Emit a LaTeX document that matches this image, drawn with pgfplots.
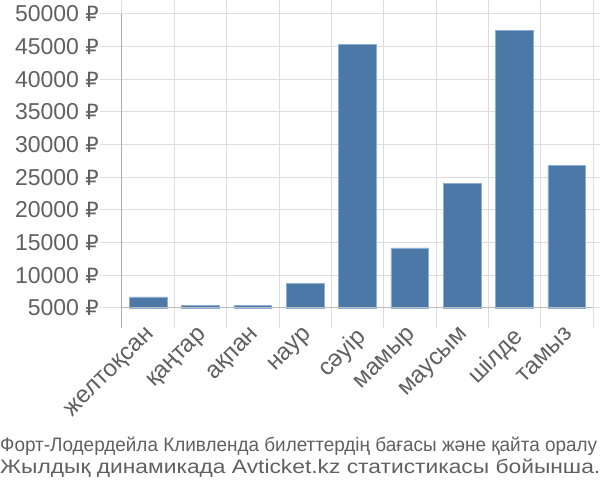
\documentclass[border=0pt]{standalone}
\usepackage{fontspec}
\setmainfont{Liberation Sans}
\newfontfamily\rubfont{DejaVu Sans}
\newcommand{\rub}{{\rubfont\fontsize{21}{25}\selectfont ₽}}
\usepackage{graphicx}
\usepackage{pgfplots}
\pgfplotsset{compat=1.18}
\definecolor{barc}{HTML}{4C78A8}
\definecolor{baredge}{HTML}{8FAED3}
\definecolor{gridc}{HTML}{DDDDDD}
\definecolor{txt}{HTML}{606060}
\definecolor{axc}{HTML}{AAAAAA}
\begin{document}
\begin{tikzpicture}[x=1pt,y=1pt]
\useasboundingbox (0,0) rectangle (600,500);
\begin{axis}[
  at={(122pt,192pt)}, anchor=south west,
  scale only axis, width=471pt, height=294pt,
  xmin=-0.5, xmax=8.5, ymin=5000, ymax=50000,
  scaled y ticks=false,
  ybar, bar width=0.72,
  axis line style={draw=none},
  tick align=outside,
  xtick={0,...,8},
  xticklabels={желтоқсан,қаңтар,ақпан,наур,сәуір,мамыр,маусым,шілде,тамыз},
  major x tick style={draw=none},
  minor xtick={-0.5,0.5,...,8.5},
  minor tick length=20pt,
  major tick length=22pt,
  xminorgrids, minor x grid style={gridc, line width=1pt},
  minor x tick style={gridc, line width=1pt},
  ytick={5000,10000,...,50000},
  yticklabels={5000 \rub,10000 \rub,15000 \rub,20000 \rub,25000 \rub,30000 \rub,35000 \rub,40000 \rub,45000 \rub,50000 \rub},
  ymajorgrids, major y grid style={gridc, line width=1pt},
  major y tick style={gridc, line width=1pt},
  yticklabel style={font=\fontsize{23}{27}\selectfont, text=txt, inner sep=1pt},
  xticklabel style={font=\fontsize{24}{28}\selectfont, text=txt, inner sep=0pt, rotate=45, anchor=north east, xshift=1pt, yshift=5pt},
  clip=false,
]
\addplot[fill=barc, draw=baredge, line width=0.8pt] coordinates {
  (0,6690) (1,5410) (2,5410) (3,8740) (4,45300) (5,14190) (6,24060) (7,47550) (8,26760)
};
\draw[axc, line width=1pt] (rel axis cs:0,1) -- ([yshift=-20pt]rel axis cs:0,0);
\draw[gridc!85!black, line width=1pt] (rel axis cs:0,0) -- (rel axis cs:1,0);
\end{axis}
\node[anchor=base west, inner sep=0pt, text=txt] at (0,48) {\resizebox{597pt}{\height}{\fontsize{19.5}{23}\selectfont Форт-Лодердейла Кливленда билеттердің бағасы және қайта оралу}};
\node[anchor=base west, inner sep=0pt, text=txt] at (0,26) {\resizebox{600pt}{\height}{\fontsize{19.5}{23}\selectfont Жылдық динамикада Avticket.kz статистикасы бойынша.}};
\end{tikzpicture}
\end{document}
